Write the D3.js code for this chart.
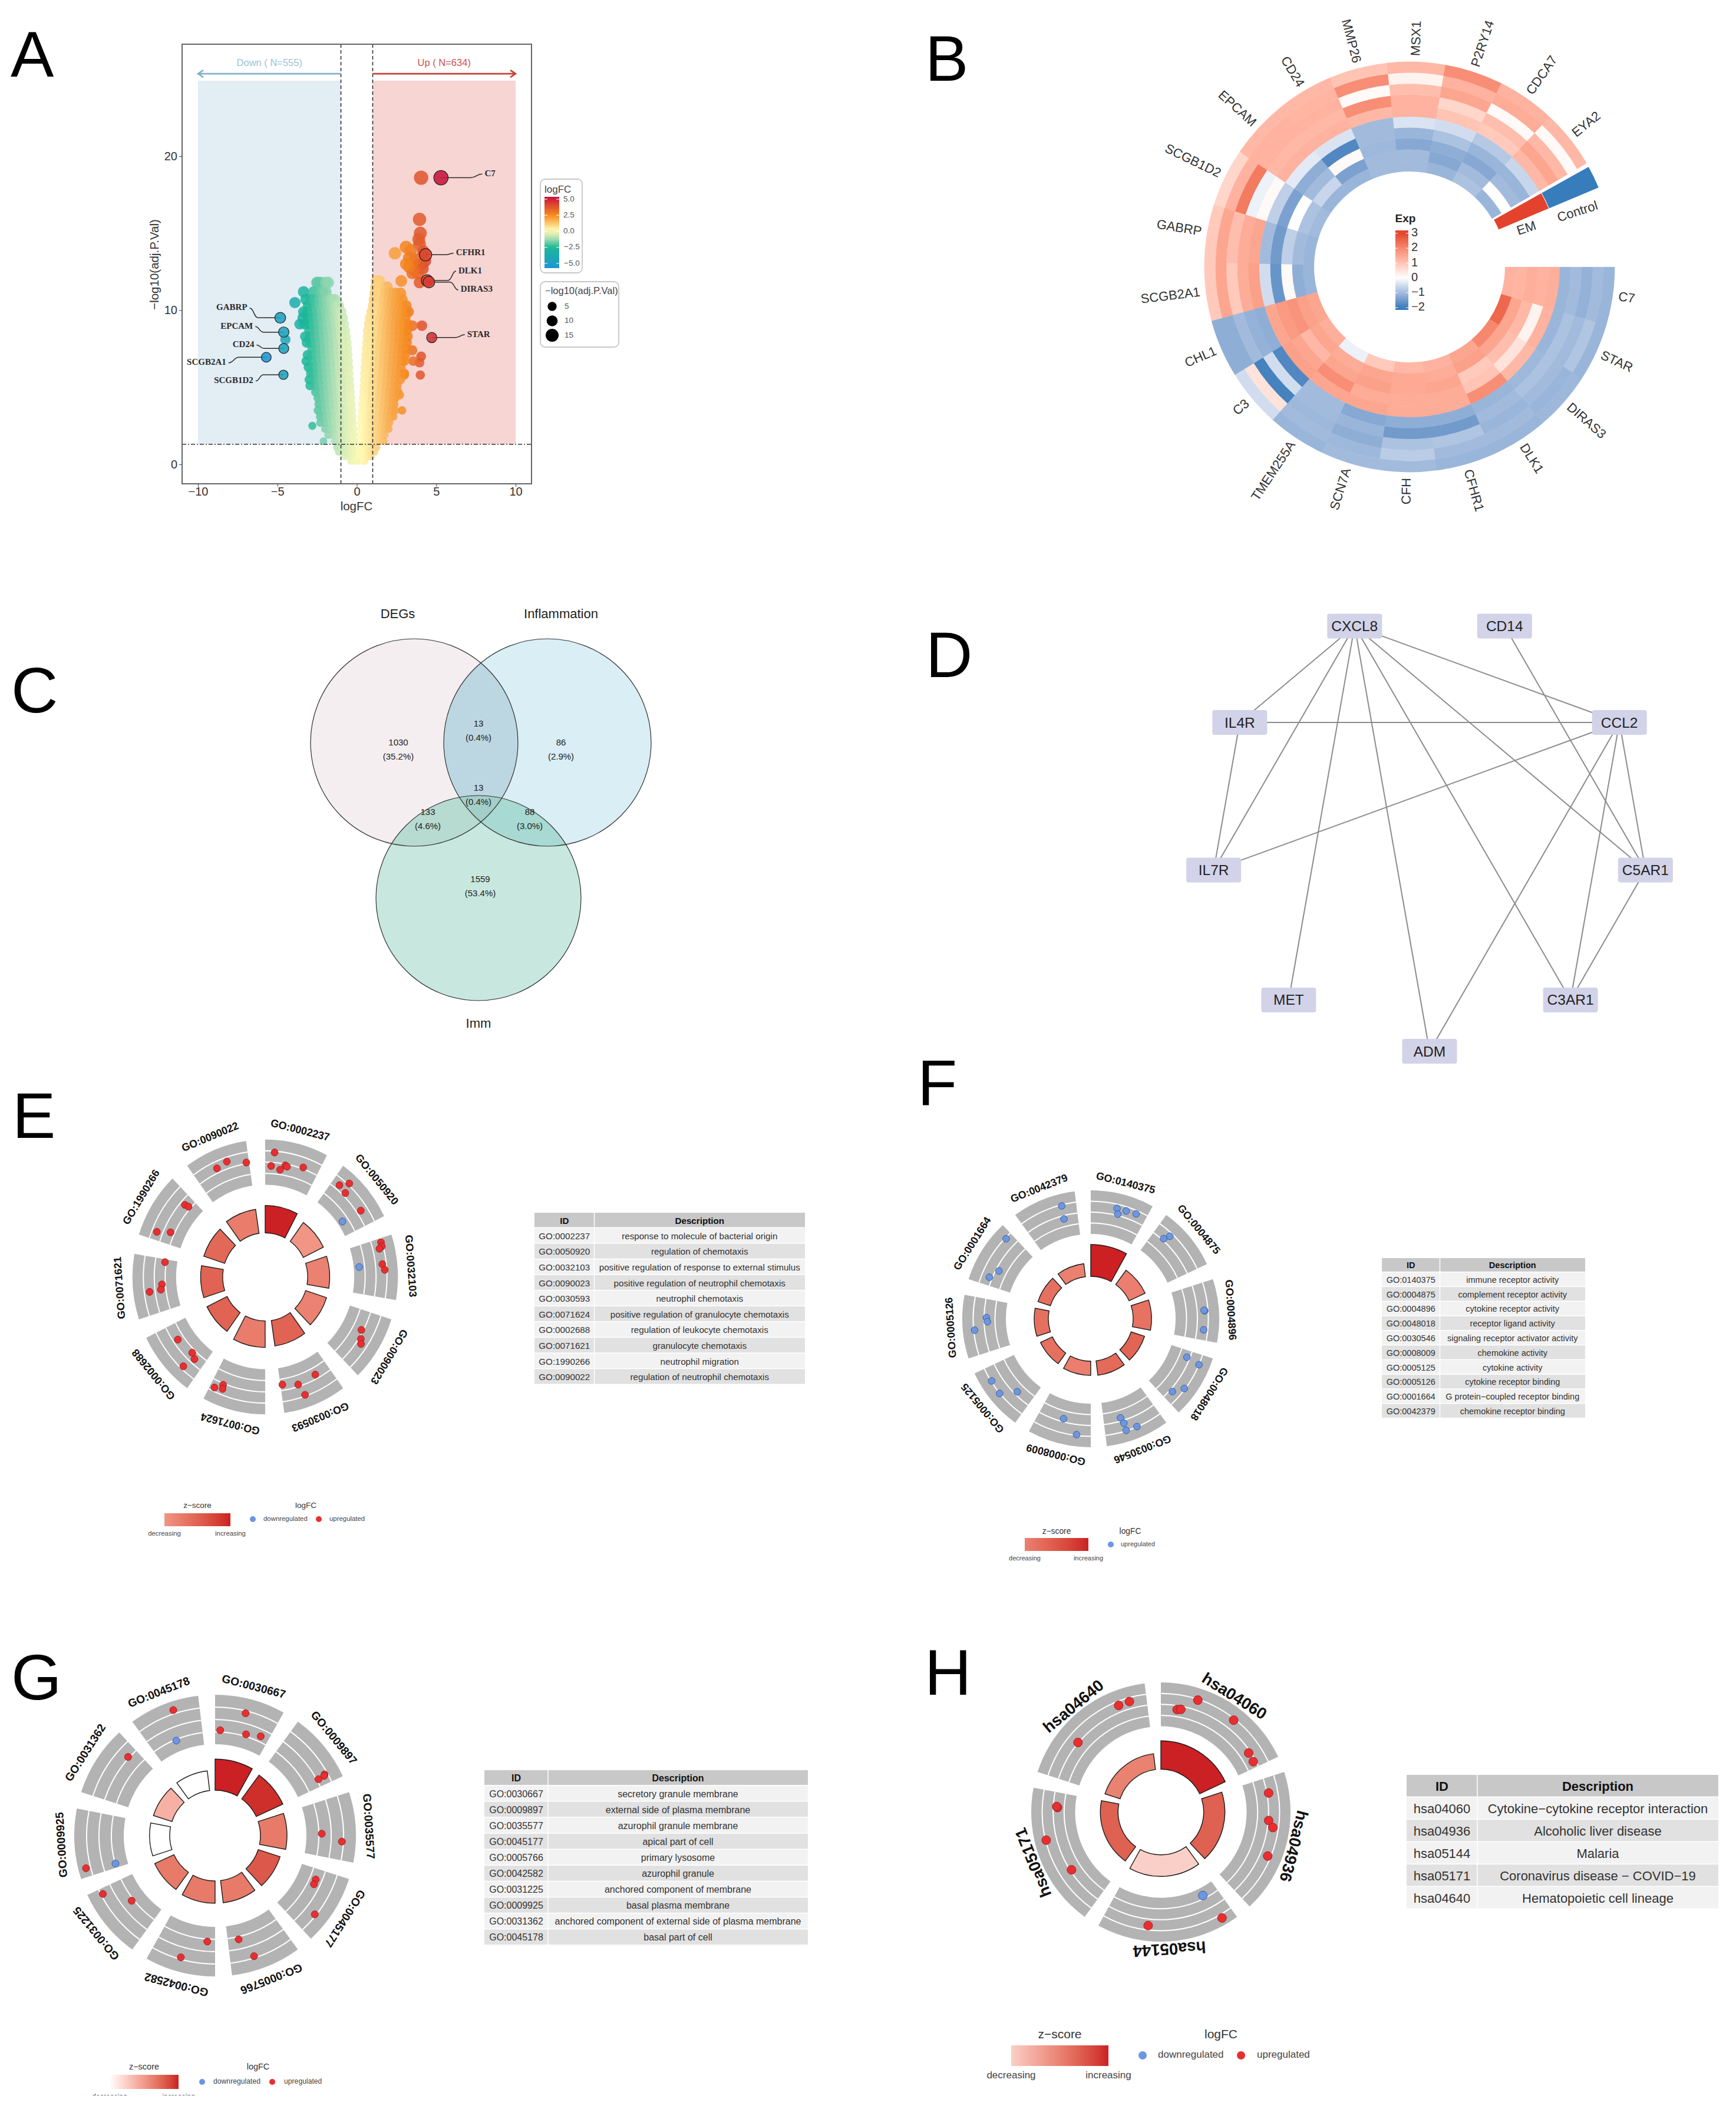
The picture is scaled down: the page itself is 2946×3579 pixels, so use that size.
<!DOCTYPE html>
<html><head><meta charset="utf-8">
<script src="https://cdn.jsdelivr.net/npm/d3@7"></script>
<style>body{margin:0;background:#fff}</style>
</head><body><svg id="c" width="2946" height="3579" xmlns="http://www.w3.org/2000/svg"></svg>
<script>
// ===== DATA: panel A, volcano =====
const volcanoDownRows = [
[0.2,-.03,-.2,-.38],[0.5,-.1,-.3,-.5,-.75],[0.8,-.15,-.35,-.55,-.78,-1.0,-1.15],[1.1,-.14,-.36,-.6,-.85,-1.08,-1.25],
[1.5,-.17,-.4,-.65,-.92,-1.15,-1.38,-2.1],[1.9,-.2,-.45,-.72,-.98,-1.22,-1.5,-1.8],[2.3,-.22,-.48,-.75,-1.02,-1.3,-1.55,-1.75,-2.0],
[2.7,-.26,-.5,-.8,-1.08,-1.35,-1.6,-1.85,-2.05,-2.3],[2.5,-2.8],[3.1,-.28,-.55,-.82,-1.1,-1.4,-1.65,-1.9,-2.15,-2.32],
[3.5,-.31,-.6,-.9,-1.15,-1.42,-1.7,-1.95,-2.2,-2.45],[3.9,-.35,-.62,-.93,-1.2,-1.48,-1.72,-2.0,-2.25,-2.4],
[4.3,-.36,-.65,-.95,-1.25,-1.52,-1.78,-2.05,-2.3,-2.45],[4.7,-.4,-.7,-1.0,-1.28,-1.55,-1.82,-2.1,-2.35,-2.6],
[5.1,-.44,-.72,-1.02,-1.3,-1.58,-1.85,-2.12,-2.38,-2.65,-2.95],[5.5,-.47,-.75,-1.05,-1.35,-1.62,-1.9,-2.18,-2.42,-2.72,-3.0],
[5.9,-.5,-.78,-1.08,-1.38,-1.65,-1.92,-2.2,-2.48,-2.75,-2.9],[6.3,-.52,-.8,-1.1,-1.4,-1.68,-1.95,-2.22,-2.5,-2.78,-3.05],
[6.7,-.55,-.85,-1.12,-1.42,-1.7,-1.98,-2.25,-2.52,-2.82,-3.18],[7.1,-.58,-.86,-1.15,-1.45,-1.72,-2.0,-2.3,-2.55,-2.85,-3.1],
[7.5,-.6,-.88,-1.18,-1.48,-1.75,-2.02,-2.3,-2.58,-2.8],[7.9,-.65,-.92,-1.2,-1.5,-1.78,-2.05,-2.35,-2.62,-2.9,-3.15],
[8.3,-.7,-.98,-1.25,-1.52,-1.8,-2.08,-2.38,-2.65,-2.95,-3.25],[8.7,-.75,-1.0,-1.28,-1.55,-1.82,-2.1,-2.4,-2.68,-2.98],
[9.1,-.82,-1.05,-1.32,-1.6,-1.85,-2.12,-2.42,-2.7,-3.0,-3.3,-3.6],[9.5,-.9,-1.12,-1.38,-1.65,-1.9,-2.18,-2.45,-2.75,-3.05,-3.4],
[9.9,-1.0,-1.22,-1.45,-1.7,-1.95,-2.2,-2.5,-2.8,-3.1,-3.35],[10.3,-1.15,-1.35,-1.55,-1.8,-2.05,-2.3,-2.55,-2.85,-3.05],
[10.7,-1.4,-1.6,-1.85,-2.1,-2.35,-2.65,-2.9,-3.2],[10.5,-3.9],[11.2,-1.95,-2.15,-2.35,-2.7,-3.35],[11.8,-1.8,-1.95,-2.3,-2.5]];
const volcanoUpRows = [
[0.2,.02,.18,.35,.5],[0.5,.1,.3,.52,.72,.9],[0.8,.15,.35,.58,.8,1.02,1.12],[1.1,.14,.38,.62,.85,1.1,1.25],
[1.5,.18,.42,.68,.95,1.2,1.45,1.7],[1.9,.22,.47,.72,1.0,1.25,1.5,1.75],[2.3,.25,.5,.78,1.05,1.3,1.55,1.8,2.0],
[2.7,.28,.52,.82,1.1,1.35,1.6,1.85,2.05],[3.1,.3,.58,.85,1.12,1.4,1.65,1.9,2.15,2.3],[3.5,.33,.6,.9,1.18,1.45,1.7,1.95,2.2,2.4,2.85],
[3.9,.36,.62,.92,1.2,1.48,1.75,2.0,2.25,2.35],[4.3,.4,.68,.95,1.25,1.5,1.78,2.05,2.3,2.42],[4.7,.44,.72,1.0,1.28,1.55,1.82,2.1,2.35,2.6],
[5.1,.46,.75,1.02,1.3,1.58,1.85,2.12,2.4,2.55],[5.5,.48,.78,1.05,1.35,1.62,1.88,2.15,2.42,2.75],[5.9,.5,.8,1.08,1.38,1.65,1.92,2.2,2.48,2.8,3.0],
[6.3,.53,.82,1.1,1.4,1.68,1.95,2.22,2.5,2.78],[6.7,.56,.85,1.12,1.42,1.7,1.98,2.25,2.52,2.85,3.0],[7.1,.6,.86,1.15,1.45,1.72,2.0,2.3,2.55,2.85,3.05],
[7.5,.62,.9,1.18,1.48,1.75,2.02,2.3,2.6,2.88,3.1],[7.9,.66,.92,1.2,1.5,1.78,2.05,2.35,2.62,2.9,3.15],[8.3,.7,.98,1.25,1.52,1.8,2.08,2.38,2.65,2.95,3.2],
[8.7,.72,1.0,1.28,1.55,1.82,2.1,2.4,2.68,2.98,3.15],[9.1,.78,1.05,1.32,1.6,1.85,2.12,2.42,2.7,3.0,3.2],[9.5,.85,1.1,1.38,1.65,1.9,2.18,2.45,2.75,3.05],
[9.9,.95,1.2,1.45,1.7,1.95,2.2,2.5,2.8,3.1,3.25],[10.3,1.05,1.3,1.55,1.8,2.05,2.3,2.55,2.85,3.1],[10.7,1.1,1.35,1.6,1.85,2.1,2.35,2.6,2.85],
[11.1,1.15,1.4,1.65,1.9,2.15,2.45,2.75],[11.5,1.2,1.4,1.65,1.9],[11.9,1.25,1.4,2.8]];
const volcanoExtras = [[3.5,9.0],[4.1,9.0],[3.5,7.4],[4.05,7.0],[3.55,6.7],[3.95,6.6],[3.0,5.8],[4.0,5.8],[2.7,4.5],[2.4,4.3],
[2.4,13.7],[3.1,14.1],[3.3,13.4],[3.1,13.0],[3.6,12.6],[3.4,13.9],[3.95,14.3],[4.2,13.8],[4.05,13.0],[4.3,13.2],[3.9,12.9],[3.3,12.8],[3.5,13.1],
[3.7,13.3],[3.85,12.4],[4.15,12.7],[3.5,12.4],[3.95,11.8],[3.95,15.9],[4.0,15.0],[3.9,14.6],[4.05,18.6],[-4.5,8.1]];
const geneLabels = ["C7","CFHR1","DLK1","DIRAS3","STAR","GABRP","EPCAM","CD24","SCGB2A1","SCGB1D2"];
const geneLogFC  = [5.3,4.33,4.43,4.54,4.72,-4.82,-4.6,-4.6,-5.7,-4.62];
const genePval   = [18.6,13.6,11.93,11.83,8.23,9.51,8.58,7.52,6.95,5.81];
const xTicksA = [-10,-5,0,5,10], yTicksA = [0,10,20];
const sizeLegend = [5,10,15], fcLegend = [5,2.5,0,-2.5,-5];

// ===== DATA: panel B, circular heatmap (rings inner to outer) =====
const heatGenes = ["C7","STAR","DIRAS3","DLK1","CFHR1","CFH","SCN7A","TMEM255A","C3","CHL1","SCGB2A1","GABRP","SCGB1D2","EPCAM","CD24","MMP26","MSX1","P2RY14","CDCA7","EYA2"];
const heatValues = [
[1.3,1.25,1.35,1.3,1.35,-1.1,-1.0,-1.15,-1.0,-1.1],
[2.5,1.5,1.2,0.2,1.3,-1.1,-0.9,-1.0,-0.85,-1.1],
[2.0,1.5,1.1,0.5,1.2,-1.05,-0.9,-1.0,-1.1,-1.05],
[1.5,1.6,0.9,1.0,1.9,-1.1,-1.0,-1.1,-1.0,-1.1],
[1.3,1.4,1.5,1.4,1.4,-1.2,-1.5,-0.85,-1.0,-1.1],
[1.2,1.45,1.45,1.4,1.4,-1.2,-1.5,-0.9,-0.75,-1.0],
[0.9,1.5,1.6,1.4,1.5,-1.3,-1.1,-1.2,-1.05,-1.0],
[-0.2,1.4,1.5,1.9,1.5,-1.0,-1.0,-1.05,-1.0,-1.1],
[1.35,1.5,1.2,1.5,1.6,-1.8,-0.5,-1.9,0.5,-0.5],
[1.5,1.6,1.8,1.7,1.5,-1.2,-1.15,-1.0,-1.2,-1.2],
[-1.1,-1.2,0.1,-1.6,-0.5,1.6,1.4,0.9,1.5,0.9],
[-1.1,-1.0,-0.7,-1.5,-1.0,1.5,1.4,1.1,1.5,0.9],
[-1.0,-0.9,0.0,-1.4,-0.7,0.1,-0.2,2.2,1.3,0.7],
[-1.1,-0.6,-1.0,-1.2,-0.3,1.3,1.2,1.3,1.3,1.2],
[-1.1,-1.4,0.1,-1.8,-0.4,1.3,1.2,1.3,1.25,1.2],
[-1.0,-1.0,-1.05,-1.0,-1.0,1.2,1.9,0.1,1.9,1.0],
[-1.0,-1.0,-1.3,-1.1,-0.4,1.3,1.3,1.1,0.2,1.2],
[-1.1,-1.3,-1.2,-0.9,-0.5,1.0,0.7,1.5,1.3,1.9],
[-0.9,-1.0,-1.3,-1.1,-0.8,0.9,1.1,0.1,1.4,1.3],
[-1.1,0.0,-1.0,-1.1,-0.6,1.2,1.5,1.2,0.1,1.2]];
const groupNames = ["EM","Control"];
const expTicks = [3,2,1,0,-1,-2];

// ===== DATA: panel C, Venn =====
const vennSets = ["DEGs","Inflammation","Imm"];
const vennCounts = [1030,13,86,13,133,88,1559];
const vennPct = ["(35.2%)","(0.4%)","(2.9%)","(0.4%)","(4.6%)","(3.0%)","(53.4%)"];

// ===== DATA: panel D, network (clockwise from the bottom node) =====
const netNodes = ["ADM","MET","IL7R","IL4R","CXCL8","CD14","CCL2","C5AR1","C3AR1"];
const netEdges = [["CXCL8","IL4R"],["CXCL8","IL7R"],["CXCL8","MET"],["CXCL8","ADM"],["CXCL8","C3AR1"],["CXCL8","C5AR1"],["CXCL8","CCL2"],["CD14","C5AR1"],["IL4R","CCL2"],["IL4R","IL7R"],["CCL2","IL7R"],["CCL2","ADM"],["CCL2","C3AR1"],["CCL2","C5AR1"],["C5AR1","C3AR1"]];

// ===== DATA: panels E-H, GO/KEGG circles =====
const idsE = ["GO:0002237","GO:0050920","GO:0032103","GO:0090023","GO:0030593","GO:0071624","GO:0002688","GO:0071621","GO:1990266","GO:0090022"];
const descE = ["response to molecule of bacterial origin","regulation of chemotaxis","positive regulation of response to external stimulus","positive regulation of neutrophil chemotaxis","neutrophil chemotaxis","positive regulation of granulocyte chemotaxis","regulation of leukocyte chemotaxis","granulocyte chemotaxis","neutrophil migration","regulation of neutrophil chemotaxis"];
const pvalE = [7.7,6.5,6.4,6.4,7.2,7.4,6.5,6.4,6.4,6.8];
const zE = [3,1,1.4,1.4,2,1.5,2,2,1.9,1.5];
const genesE = [
[[4.5,1.33],[3.2,-.49],[8.2,-.87],[10.6,-.19],[11.6,-.3],[19.8,.2]],
[[7,1.71],[4,.65],[8.7,.42],[20.2,.57],[19.3,-2.32]],
[[1.9,1.33],[3.8,1.3],[4.6,.9],[12,.95],[14.7,1.23],[12.2,-2.25]],
[[10,-.26],[14,.27],[16,.65]],
[[8,-.57],[18.4,-.26],[26.6,-.76],[16.7,1.33]],
[[22,.2],[21.5,.72],[25.4,1.0]],
[[19.3,-.64],[8.9,-1.04],[5.7,-.64],[7.5,1.1]],
[[26.1,-1.33],[14,-1.02],[11.3,-.81],[10.9,.77]],
[[22.9,-.64],[23.5,-1.18],[3.9,.8],[6.5,-.95]],
[[11.3,.62],[17,.95],[26.3,.16]]];

const idsF = ["GO:0140375","GO:0004875","GO:0004896","GO:0048018","GO:0030546","GO:0008009","GO:0005125","GO:0005126","GO:0001664","GO:0042379"];
const descF = ["immune receptor activity","complement receptor activity","cytokine receptor activity","receptor ligand activity","signaling receptor activator activity","chemokine activity","cytokine activity","cytokine receptor binding","G protein−coupled receptor binding","chemokine receptor binding"];
const pvalF = [9,5,5.2,4,4.1,4,3.7,4,3.7,3.7];
const zF = [3,1.05,1.35,1.7,1.55,1.05,1.4,1.4,1.4,1];
const genesF = [
[[13.4,.95],[14.5,.2],[18.2,.94],[23.4,1.05]],
[[7.8,1.05],[6.3,.23]],
[[14,1.05],[13.7,.97],[23.6,.93]],
[[3.8,-.43],[5,1.5],[18.7,1.38],[23.7,.37]],
[[19.3,-.44],[18.4,.39],[18.4,1.43],[12.8,1.46]],
[[15.2,-.42],[7,1.38]],
[[21.9,1.42],[14.7,1.53],[9.2,-.42]],
[[18.6,-.32],[16.4,-.45],[12.4,1.38]],
[[25.4,1.36],[9.5,-.43],[4.3,.4]],
[[21.6,1.36],[21,-.45]]];

const idsG = ["GO:0030667","GO:0009897","GO:0035577","GO:0045177","GO:0005766","GO:0042582","GO:0031225","GO:0009925","GO:0031362","GO:0045178"];
const descG = ["secretory granule membrane","external side of plasma membrane","azurophil granule membrane","apical part of cell","primary lysosome","azurophil granule","anchored component of membrane","basal plasma membrane","anchored component of external side of plasma membrane","basal part of cell"];
const pvalG = [8.8,8.3,7.5,6.5,6.3,6.3,6,5.7,5.5,5.6];
const zG = [2.6,2.5,1.7,2.1,1.7,1.7,1.7,0,1,0];
const genesG = [
[[14,1.21],[2.8,-1.29],[17,-1.24],[24.7,-.83]],
[[24.8,1.13],[25.3,1.0],[25.4,.2]],
[[17,-1.14],[20.7,1.32]],
[[5.6,-.76],[8.2,-.71],[20.3,1.33]],
[[23.2,-1.17],[18.1,1.29]],
[[4.2,-1.19],[15.7,1.26]],
[[26.5,1.26],[16,-1.24]],
[[3.8,2.07],[2.3,-1.53]],
[[24.1,.14]],
[[17.6,1.96],[13.8,-1.64]]];

const idsH = ["hsa04060","hsa04936","hsa05144","hsa05171","hsa04640"];
const descH = ["Cytokine−cytokine receptor interaction","Alcoholic liver disease","Malaria","Coronavirus disease − COVID−19","Hematopoietic cell lineage"];
const pvalH = [8,6,6.1,5,4.5];
const zH = [3,2.4,1,2.4,2];
const genesH = [
[[18.3,1.39],[9,-.54],[11,-.43],[38.4,1.3],[56.1,-.26],[61.4,-.34]],
[[8,.24],[22.5,.06],[25.9,.73],[40.4,1.07]],
[[9.3,-1.95],[6,2.0],[42.4,.9]],
[[21.1,-.17],[40.2,1.42],[56.5,-.58],[57,-.46]],
[[22,.07],[50.4,.95],[56.1,.98]]];
// downregulated genes (logFC below this value on the ring) are drawn blue
const downCutE = -2, downCutF = 9, downCutG = -1.4, downCutH = -1.5;

const letters = ["A","B","C","D","E","F","G","H"];

// ===== DRAWING =====
const svg = d3.select("#c");
svg.append("rect").attr("width",2946).attr("height",3579).attr("fill","#fff");
const defs = svg.append("defs");
const SANS = '"Liberation Sans",Arial,sans-serif';
function txt(g,x,y,s,size,o={}){
  return g.append("text").attr("x",x).attr("y",y).text(s).attr("font-size",size)
    .attr("text-anchor",o.anchor||"middle").attr("fill",o.fill||"#222")
    .attr("font-weight",o.weight||"normal").attr("font-family",o.family||SANS)
    .attr("dominant-baseline",o.base||"auto");
}
function gradient(id,stops,vertical){
  const g=defs.append("linearGradient").attr("id",id).attr("x1",0).attr("y1",0).attr("x2",vertical?0:1).attr("y2",vertical?1:0);
  stops.forEach(s=>g.append("stop").attr("offset",s[0]).attr("stop-color",s[1]));
}

// letters
const letterX=[18,1570,19,1571,21,1557,19,1569], letterY=[130,137,1209,1149,1931,1876,2884,2876];
letters.forEach((l,i)=>txt(svg,letterX[i],letterY[i],l,110,{anchor:"start",fill:"#000"}));

// --- Panel A ---
(function(){
  const g=svg.append("g");
  const x=d3.scaleLinear().domain([-10,10]).range([336,875]);
  const y=d3.scaleLinear().domain([0,20]).range([788,265]);
  const L=309,R=902,T=75,B=821;
  const color=d3.scaleLinear().domain([-5.3,-3,-2,-1,.2,1,2,3,5.3]).range(["#1e9acb","#1cb896","#7fd0ab","#c9e8b8","#fffab4","#fcd98a","#f8ab4e","#f58a1e","#c8143c"]);
  const legendColor=d3.scaleLinear().domain([-5.3,-2.5,-1,.2,2.5,5.3]).range(["#1e9acb","#1cb896","#b9e2b2","#fffab4","#f78c1c","#c8143c"]);
  const rad=d3.scaleLinear().domain([0,15]).range([6,11]);
  g.append("rect").attr("x",x(-10)).attr("width",x(-1)-x(-10)).attr("y",y(24.9)).attr("height",y(1.3)-y(24.9)).attr("fill","#e2edf4");
  g.append("rect").attr("x",x(1)).attr("width",x(10)-x(1)).attr("y",y(24.9)).attr("height",y(1.3)-y(24.9)).attr("fill","#f6d5d3");
  const pts=[];
  volcanoDownRows.concat(volcanoUpRows).forEach(r=>r.slice(1).forEach(v=>pts.push([v,r[0]])));
  volcanoExtras.forEach(p=>pts.push(p));
  pts.sort((a,b)=>Math.abs(b[0])-Math.abs(a[0]));
  g.selectAll("circle.p").data(pts).join("circle").attr("class","p")
    .attr("cx",d=>x(d[0])).attr("cy",d=>y(d[1])).attr("r",d=>rad(d[1]))
    .attr("fill",d=>color(d[0])).attr("fill-opacity",.85);
  // highlighted genes
  const lx=[7.9,6.09,6.25,6.39,6.8,-6.75,-6.39,-6.31,-8.08,-6.37];
  const ly=[18.84,13.7,12.54,11.32,8.41,10.14,8.94,7.74,6.59,5.41];
  const link=d3.line().curve(d3.curveBumpX);
  geneLabels.forEach((n,i)=>{
    const px=x(geneLogFC[i]),py=y(genePval[i]),ex=x(lx[i]),ey=y(ly[i]);
    g.append("path").attr("d",link([[px,py],[px+(ex-px)*.72,py],[ex,ey]])).attr("fill","none").attr("stroke","#2b2b2b").attr("stroke-width",1.5);
    g.append("circle").attr("cx",px).attr("cy",py).attr("r",rad(genePval[i])).attr("fill",color(geneLogFC[i])).attr("fill-opacity",.88).attr("stroke","#222").attr("stroke-width",1.2);
    txt(g,ex+(lx[i]>0?4:-4),ey,n,15,{anchor:lx[i]>0?"start":"end",family:'"Liberation Serif",serif',weight:"bold",base:"middle",fill:"#2a2a2a"});
  });
  // lines
  const dash=(a,b,c,d,ds)=>g.append("line").attr("x1",a).attr("y1",b).attr("x2",c).attr("y2",d).attr("stroke","#333").attr("stroke-width",1.6).attr("stroke-dasharray",ds);
  dash(x(-1),T,x(-1),B,"6 4");dash(x(1),T,x(1),B,"6 4");dash(L,y(1.3),R,y(1.3),"7 3 2 3");
  // arrows
  const arr=(a,b,c)=>{const yy=y(25.35);
    g.append("path").attr("fill","none").attr("stroke",c).attr("stroke-width",2.6).attr("d",`M${a},${yy}L${b},${yy}M${b+(b<a?9:-9)},${yy-6}L${b},${yy}L${b+(b<a?9:-9)},${yy+6}`);};
  arr(x(-1),x(-10),"#82b2cc");arr(x(1),x(10),"#c9403a");
  txt(g,(x(-1)+x(-10))/2,y(25.85),"Down ( N=555)",16.5,{fill:"#9bc1d6"});
  txt(g,(x(1)+x(10))/2,y(25.85),"Up ( N=634)",16.5,{fill:"#cd5450"});
  g.append("rect").attr("x",L).attr("y",T).attr("width",R-L).attr("height",B-T).attr("fill","none").attr("stroke","#666").attr("stroke-width",2);
  const ax=g.append("g").attr("transform",`translate(0,${B})`).call(d3.axisBottom(x).tickValues(xTicksA).tickFormat(d=>d<0?"−"+(-d):d).tickSize(5).tickPadding(1));
  const ay=g.append("g").attr("transform",`translate(${L},0)`).call(d3.axisLeft(y).tickValues(yTicksA).tickSize(5));
  [ax,ay].forEach(a=>{a.select(".domain").remove();a.selectAll("text").attr("font-size",20).attr("fill","#333").attr("font-family",SANS);a.selectAll("line").attr("stroke","#444");});
  txt(g,605,866,"logFC",20.5,{fill:"#333"});
  txt(g,0,0,"−log10(adj.P.Val)",20.5,{fill:"#333"}).attr("transform",`translate(269,449) rotate(-90)`);
  // legends
  const box=(a,b,c,d)=>g.append("rect").attr("x",a).attr("y",b).attr("width",c-a).attr("height",d-b).attr("rx",8).attr("fill","#fff").attr("stroke","#c8c8c8").attr("stroke-width",1.8);
  box(917,304,988,463);box(917,478,1050,589);
  txt(g,924,327,"logFC",17,{anchor:"start",fill:"#444"});
  const barS=d3.scaleLinear().domain([5,-5]).range([338,447]);
  const stops=d3.range(0,1.001,.05).map(t=>{const v=barS.invert(334+t*121);return [t,legendColor(v)];});
  gradient("gA",stops,true);
  g.append("rect").attr("x",924).attr("y",334).attr("width",25).attr("height",121).attr("fill","url(#gA)");
  fcLegend.forEach(v=>{
    g.append("path").attr("d",`M924,${barS(v)}h5M944,${barS(v)}h5`).attr("stroke","#fff").attr("stroke-width",1);
    txt(g,v<0?957:956,barS(v),v<0?"−"+(-v).toFixed(1):v.toFixed(1),13.5,{anchor:"start",base:"middle",fill:"#555"});
  });
  txt(g,925,499,"−log10(adj.P.Val)",16.5,{anchor:"start",fill:"#444"});
  const ly2=d3.scalePoint().domain(sizeLegend).range([520,569]);
  sizeLegend.forEach(v=>{
    g.append("circle").attr("cx",937).attr("cy",ly2(v)).attr("r",rad(v)).attr("fill","#000");
    txt(g,958,ly2(v),v,13.5,{anchor:"start",base:"middle",fill:"#555"});
  });
})();

// --- Panel B ---
(function(){
  const cx=2392,cy=453,R0=162,dR=18.6,G=svg.append("g").attr("transform",`translate(${cx},${cy})`);
  const color=d3.scaleLinear().domain([-2,0,3]).range(["#377cbb","#ffffff","#e3432c"]).interpolate(d3.interpolateLab);
  const ang=d3.scaleBand().domain(heatGenes).range([Math.PI/2,Math.PI/2+329.5*Math.PI/180]);
  const arc=d3.arc();
  heatGenes.forEach((g,i)=>heatValues[i].forEach((v,j)=>{
    G.append("path").attr("d",arc({innerRadius:R0+j*dR,outerRadius:R0+(j+1)*dR+.4,startAngle:ang(g),endAngle:ang(g)+ang.bandwidth()+.003})).attr("fill",color(v));
  }));
  [["#e3432c",0],["#377cbb",1]].forEach(([c,k])=>{
    const a0=Math.PI/2-29.2*Math.PI/180,a1=Math.PI/2-22.8*Math.PI/180;
    G.append("path").attr("d",arc({innerRadius:R0+2+k*93,outerRadius:R0+2+(k+1)*92,startAngle:a0,endAngle:a1})).attr("fill",c);
  });
  txt(G,0,0,groupNames[0],22,{fill:"#333",base:"middle"}).attr("transform",`rotate(-18) translate(209,0)`);
  txt(G,0,0,groupNames[1],22,{fill:"#333",base:"middle"}).attr("transform",`rotate(-18) translate(300,0)`);
  heatGenes.forEach(g=>{
    const t=(ang(g)+ang.bandwidth()/2-Math.PI/2)*180/Math.PI, flip=t>90&&t<270;
    const rot=flip?t-180:(t>=270?t-360:t);
    const rr=358,xx=rr*Math.cos(t*Math.PI/180),yy=rr*Math.sin(t*Math.PI/180);
    txt(G,0,0,g,22,{fill:"#333",anchor:flip?"end":"start",base:"middle"}).attr("transform",`translate(${xx},${yy}) rotate(${rot})`);
  });
  // legend
  const y=d3.scaleLinear().domain([3,-2]).range([396,522]);
  const stops=d3.range(0,1.001,.05).map(t=>[t,color(Math.max(-2,Math.min(3,y.invert(391+t*135))))]);
  gradient("gB",stops,true);
  svg.append("rect").attr("x",2368).attr("y",391).attr("width",22).attr("height",135).attr("fill","url(#gB)");
  txt(svg,2385,377,"Exp",19,{weight:"bold",fill:"#222"});
  expTicks.forEach(v=>{
    svg.append("path").attr("d",`M2368,${y(v)}h4M2386,${y(v)}h4`).attr("stroke","#fff").attr("stroke-width",1);
    txt(svg,2395,y(v),v<0?"−"+(-v):v,20,{anchor:"start",base:"middle",fill:"#333"});
  });
})();

// --- Panel C ---
(function(){
  const g=svg.append("g");
  const circles=[[703,1260,176,"#f4eef0"],[929,1260,176,"#d9eef5"],[812,1524,174,"#c8e8df"]];
  circles.forEach((c,i)=>defs.append("clipPath").attr("id","vc"+i).append("circle").attr("cx",c[0]).attr("cy",c[1]).attr("r",c[2]));
  const disc=(p,c,f,clip1,clip2)=>{
    let host=p; if(clip1!=null) host=host.append("g").attr("clip-path",`url(#vc${clip1})`);
    if(clip2!=null) host=host.append("g").attr("clip-path",`url(#vc${clip2})`);
    host.append("circle").attr("cx",c[0]).attr("cy",c[1]).attr("r",c[2]).attr("fill",f);
  };
  circles.forEach(c=>disc(g,c,c[3]));
  disc(g,circles[1],"#bcd7e1",0);      // DEGs and Inflammation
  disc(g,circles[2],"#b7dbd1",0);      // DEGs and Imm
  disc(g,circles[2],"#a8d9d2",1);      // Inflammation and Imm
  disc(g,circles[2],"#a4cfc8",0,1);    // all three
  g.selectAll("circle.o").data(circles).join("circle").attr("class","o").attr("cx",d=>d[0]).attr("cy",d=>d[1]).attr("r",d=>d[2]).attr("fill","none").attr("stroke","#333").attr("stroke-width",1.2);
  const tx=[675,952,812],ty=[1049,1049,1744];
  vennSets.forEach((s,i)=>txt(g,tx[i],ty[i],s,22,{fill:"#222"}));
  const nx=[676,812,952,812,726,899,815],ny=[1265,1233,1265,1342,1383,1383,1497];
  vennCounts.forEach((v,i)=>{
    txt(g,nx[i],ny[i],v,15,{fill:"#222"});
    txt(g,nx[i],ny[i]+24,vennPct[i],15,{fill:"#222"});
  });
})();

// --- Panel D ---
(function(){
  const g=svg.append("g");
  const a=d3.scalePoint().domain(netNodes).range([180,180+320]);
  const pos=n=>{const t=a(n)*Math.PI/180;return [2426+372*Math.sin(t),1412-372*Math.cos(t)];};
  netEdges.forEach(e=>{const p=pos(e[0]),q=pos(e[1]);
    g.append("line").attr("x1",p[0]).attr("y1",p[1]).attr("x2",q[0]).attr("y2",q[1]).attr("stroke","#8b8b8b").attr("stroke-width",2);});
  netNodes.forEach(n=>{const p=pos(n);
    g.append("rect").attr("x",p[0]-46.5).attr("y",p[1]-21).attr("width",93).attr("height",42).attr("rx",4).attr("fill","#d2d2e8");
    txt(g,p[0],p[1],n,24.5,{base:"central",fill:"#222"});});
})();

// --- tables ---
function table(ids,descs,x0,xm,x1,y0,hH,rH,fs){
  const g=svg.append("g"),gap=1.5;
  const row=(i,y,h,a,b,fill,bold)=>{
    g.append("rect").attr("x",x0).attr("y",y).attr("width",xm-x0-gap/2).attr("height",h-gap).attr("fill",fill);
    g.append("rect").attr("x",xm+gap/2).attr("y",y).attr("width",x1-xm-gap/2).attr("height",h-gap).attr("fill",fill);
    txt(g,(x0+xm)/2,y+h/2,a,fs,{base:"central",fill:bold?"#111":"#333",weight:bold?"bold":"normal"});
    txt(g,(xm+x1)/2,y+h/2,b,fs,{base:"central",fill:bold?"#111":"#333",weight:bold?"bold":"normal"});
  };
  row(-1,y0,hH,"ID","Description","#c8c8c8",true);
  ids.forEach((d,i)=>row(i,y0+hH+i*rH,rH,d,descs[i],i%2?"#e1e1e1":"#f2f2f2",false));
}
table(idsE,descE,907,1008.5,1366,2058,26,26.6,15.2);
table(idsF,descF,2345,2443.5,2690,2135,24.3,24.8,14.5);
table(idsG,descG,822,930,1371,3004,26.5,27.1,16);
table(idsH,descH,2387,2507,2916,3012,38,38,22);

// --- GO circle ---
function goCircle(o){
  const sx=o.sx||1,sy=o.sy||1;
  const G=svg.append("g").attr("transform",`translate(${o.cx},${o.cy}) scale(${sx},${sy})`);
  const n=o.ids.length,step=360/n,rad=Math.PI/180,arc=d3.arc();
  const lfc=d3.scaleLinear().domain([-3,3]).range([o.rIn,o.rOut]);
  const hgt=d3.scaleLinear().domain([0,1]).range([o.rH0,o.rH0+o.hUnit]);
  const zc=d3.scaleLinear().domain(o.zDom).range(o.zRange).interpolate(d3.interpolateLab);
  o.ids.forEach((id,k)=>{
    const a0=k*step,a1=a0+o.span;
    G.append("path").attr("d",arc({innerRadius:o.rIn,outerRadius:o.rOut,startAngle:a0*rad,endAngle:a1*rad})).attr("fill","#b3b3b3");
    [-1.5,0,1.5].forEach(v=>G.append("path").attr("d",arc({innerRadius:lfc(v),outerRadius:lfc(v),startAngle:a0*rad,endAngle:a1*rad})).attr("fill","none").attr("stroke","#fff").attr("stroke-width",2));
    G.append("path").attr("d",arc({innerRadius:o.rH0,outerRadius:hgt(o.pval[k]),startAngle:a0*rad,endAngle:a1*rad})).attr("fill",zc(o.z[k])).attr("stroke","#1a1a1a").attr("stroke-width",1.4);
    const mid=(a0+a1)/2;
    txt(G,0,0,id,o.fs,{base:"middle",fill:"#111",weight:"bold"})
      .attr("transform",`rotate(${mid}) translate(0,${-o.labelR})`);
    o.genes[k].forEach(p=>{
      const t=(a0+p[0])*rad,r=lfc(p[1]),isDown=p[1]<o.downCut;
      G.append("circle").attr("cx",r*Math.sin(t)).attr("cy",-r*Math.cos(t)).attr("r",o.dotR)
        .attr("fill",(isDown||o.allBlue)?"#6d96e2":"#ea2e30").attr("stroke",(isDown||o.allBlue)?"#34558f":"#8f1f22").attr("stroke-width",.9);
    });
  });
  // legend
  const L=o.leg;
  const lg=L.clip?svg.append("g").attr("clip-path","url(#"+L.clip+")"):svg.append("g");
  txt(svg,(L.x0+L.x1)/2,L.zY,"z−score",L.titleFs,{fill:"#333"});
  gradient("g"+o.key,d3.range(0,1.001,.1).map(t=>[t,zc(o.zDom[0]+t*(o.zDom[1]-o.zDom[0]))]),false);
  svg.append("rect").attr("x",L.x0).attr("y",L.barY).attr("width",L.x1-L.x0).attr("height",L.barH).attr("fill","url(#g"+o.key+")");
  txt(lg,L.x0,L.decY,"decreasing",L.fs,{fill:"#444"});
  txt(lg,L.x1,L.decY,"increasing",L.fs,{fill:"#444"});
  txt(svg,L.fcX,L.zY,"logFC",L.titleFs,{fill:"#333"});
  L.items.forEach(it=>{
    svg.append("circle").attr("cx",it[0]).attr("cy",L.itemY).attr("r",L.dot).attr("fill",it[2]);
    txt(svg,it[1],L.itemY,it[3],L.fs,{anchor:"start",base:"middle",fill:"#444"});
  });
}
const BLUE="#6d96e2",RED="#ea2e30";
const clip=defs.append("clipPath").attr("id","clipG");clip.append("rect").attr("x",0).attr("y",3400).attr("width",900).attr("height",156);
goCircle({key:"E",cx:450,cy:2167,sx:.975,sy:1.01,rIn:155,rOut:231,rH0:74,hUnit:6,span:27.7,labelR:253,fs:18.2,dotR:6,ids:idsE,pval:pvalE,z:zE,genes:genesE,downCut:downCutE,zDom:[1,3],zRange:["#f19585","#cb2024"],
  leg:{x0:279,x1:391,barY:2568,barH:22,zY:2559,decY:2606,fs:11.4,titleFs:13.5,fcX:519,itemY:2578,dot:5,items:[[429,447,BLUE,"downregulated"],[541,559,RED,"upregulated"]]}});
goCircle({key:"F",cx:1851,cy:2238,rIn:144,rOut:218,rH0:72,hUnit:6,span:28.8,labelR:237,fs:17.8,dotR:5.8,ids:idsF,pval:pvalF,z:zF,genes:genesF,downCut:downCutF,allBlue:true,zDom:[1,3],zRange:["#ec8070","#cc2023"],
  leg:{x0:1739,x1:1847,barY:2610,barH:22,zY:2603,decY:2648,fs:11,titleFs:13.8,fcX:1918,itemY:2621,dot:5,items:[[1885,1902,BLUE,"upregulated"]]}});
goCircle({key:"G",cx:365,cy:3115,rIn:155,rOut:239,rH0:77,hUnit:6,span:29.1,labelR:260,fs:19.2,dotR:6,ids:idsG,pval:pvalG,z:zG,genes:genesG,downCut:downCutG,zDom:[0,2.6],zRange:["#ffffff","#cb2024"],
  leg:{x0:186,x1:303,barY:3521,barH:24,zY:3512,decY:3562,fs:12.2,titleFs:14.5,fcX:438,itemY:3533,dot:5,clip:"clipG",items:[[343,362,BLUE,"downregulated"],[462,482,RED,"upregulated"]]}});
goCircle({key:"H",cx:1970,cy:3075,rIn:145.5,rOut:220,rH0:72.7,hUnit:6,span:64.8,labelR:231,fs:27.5,dotR:7.5,ids:idsH,pval:pvalH,z:zH,genes:genesH,downCut:downCutH,zDom:[1,3],zRange:["#f9cfc7","#cb2024"],
  leg:{x0:1716,x1:1881,barY:3471,barH:35,zY:3459,decY:3527,fs:17,titleFs:21,fcX:2072,itemY:3488,dot:7,items:[[1939,1965,BLUE,"downregulated"],[2106,2133,RED,"upregulated"]]}});
</script></body></html>
